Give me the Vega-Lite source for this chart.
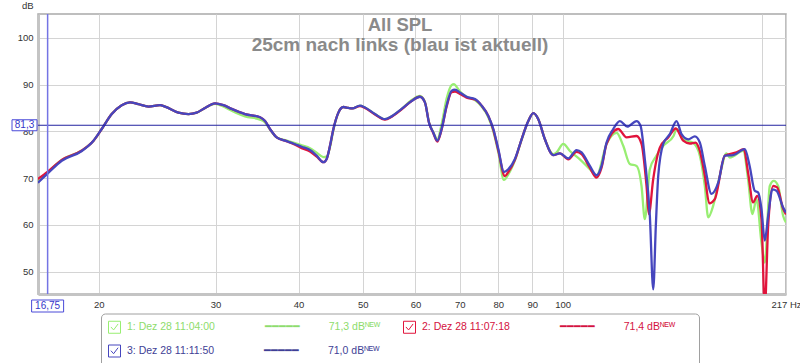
{
  "$schema": "https://vega.github.io/schema/vega-lite/v6.json",
  "width": 748,
  "height": 280,
  "padding": {"left": 10, "top": 0, "right": 0, "bottom": 0},
  "background": "white",
  "config": {
    "locale": {"number": {"decimal": ",", "thousands": ".", "grouping": [3], "currency": ["", " €"]}},
    "view": {"stroke": "#a9a9a9", "strokeWidth": 1.5},
    "axis": {"labelFont": "Liberation Sans", "labelFontSize": 9.5, "labelColor": "#333333", "gridColor": "#d4d4d4", "gridWidth": 1, "ticks": false, "domainColor": "#c4c4c4", "domainWidth": 3, "labelOverlap": false}
  },
  "title": {
    "text": "All SPL",
    "subtitle": "25cm nach links (blau ist aktuell)",
    "anchor": "middle",
    "offset": -55,
    "dx": -12,
    "font": "Liberation Sans",
    "fontSize": 18.5,
    "fontWeight": "bold",
    "color": "#8a8a8a",
    "subtitleFont": "Liberation Sans",
    "subtitleFontSize": 19,
    "subtitleFontWeight": "bold",
    "subtitleColor": "#8a8a8a",
    "subtitlePadding": 2
  },
  "datasets": {
    "cursor": [{"hz": 16.75, "db": 81.3}],
    "spl": [
      {"m":"1: Dez 28 11:04:00","hz":16.19,"db":69.3},{"m":"1: Dez 28 11:04:00","hz":16.76,"db":71.3},{"m":"1: Dez 28 11:04:00","hz":17.59,"db":73.9},{"m":"1: Dez 28 11:04:00","hz":18.86,"db":75.9},{"m":"1: Dez 28 11:04:00","hz":19.64,"db":78.0},{"m":"1: Dez 28 11:04:00","hz":20.21,"db":80.5},{"m":"1: Dez 28 11:04:00","hz":20.92,"db":83.7},{"m":"1: Dez 28 11:04:00","hz":21.66,"db":85.6},{"m":"1: Dez 28 11:04:00","hz":22.29,"db":86.2},{"m":"1: Dez 28 11:04:00","hz":22.95,"db":85.8},{"m":"1: Dez 28 11:04:00","hz":23.77,"db":85.3},{"m":"1: Dez 28 11:04:00","hz":24.74,"db":85.6},{"m":"1: Dez 28 11:04:00","hz":25.17,"db":85.3},{"m":"1: Dez 28 11:04:00","hz":26.37,"db":84.0},{"m":"1: Dez 28 11:04:00","hz":27.30,"db":83.7},{"m":"1: Dez 28 11:04:00","hz":28.09,"db":84.0},{"m":"1: Dez 28 11:04:00","hz":28.92,"db":85.0},{"m":"1: Dez 28 11:04:00","hz":29.94,"db":85.9},{"m":"1: Dez 28 11:04:00","hz":30.82,"db":85.3},{"m":"1: Dez 28 11:04:00","hz":31.72,"db":84.4},{"m":"1: Dez 28 11:04:00","hz":33.22,"db":83.2},{"m":"1: Dez 28 11:04:00","hz":35.00,"db":82.5},{"m":"1: Dez 28 11:04:00","hz":35.61,"db":81.9},{"m":"1: Dez 28 11:04:00","hz":36.23,"db":80.4},{"m":"1: Dez 28 11:04:00","hz":37.08,"db":78.7},{"m":"1: Dez 28 11:04:00","hz":38.17,"db":78.1},{"m":"1: Dez 28 11:04:00","hz":39.29,"db":77.6},{"m":"1: Dez 28 11:04:00","hz":40.44,"db":77.0},{"m":"1: Dez 28 11:04:00","hz":41.62,"db":76.4},{"m":"1: Dez 28 11:04:00","hz":42.60,"db":75.4},{"m":"1: Dez 28 11:04:00","hz":43.60,"db":74.5},{"m":"1: Dez 28 11:04:00","hz":44.10,"db":74.6},{"m":"1: Dez 28 11:04:00","hz":44.61,"db":76.6},{"m":"1: Dez 28 11:04:00","hz":45.14,"db":80.3},{"m":"1: Dez 28 11:04:00","hz":45.93,"db":84.0},{"m":"1: Dez 28 11:04:00","hz":46.73,"db":85.2},{"m":"1: Dez 28 11:04:00","hz":47.55,"db":85.0},{"m":"1: Dez 28 11:04:00","hz":48.21,"db":84.9},{"m":"1: Dez 28 11:04:00","hz":49.50,"db":85.5},{"m":"1: Dez 28 11:04:00","hz":50.37,"db":85.1},{"m":"1: Dez 28 11:04:00","hz":52.14,"db":83.7},{"m":"1: Dez 28 11:04:00","hz":53.98,"db":82.6},{"m":"1: Dez 28 11:04:00","hz":55.25,"db":83.2},{"m":"1: Dez 28 11:04:00","hz":57.20,"db":84.8},{"m":"1: Dez 28 11:04:00","hz":59.22,"db":86.7},{"m":"1: Dez 28 11:04:00","hz":60.95,"db":87.6},{"m":"1: Dez 28 11:04:00","hz":62.01,"db":86.3},{"m":"1: Dez 28 11:04:00","hz":62.88,"db":82.0},{"m":"1: Dez 28 11:04:00","hz":63.85,"db":79.8},{"m":"1: Dez 28 11:04:00","hz":64.74,"db":78.3},{"m":"1: Dez 28 11:04:00","hz":65.71,"db":81.5},{"m":"1: Dez 28 11:04:00","hz":66.86,"db":87.0},{"m":"1: Dez 28 11:04:00","hz":68.03,"db":89.9},{"m":"1: Dez 28 11:04:00","hz":68.60,"db":90.1},{"m":"1: Dez 28 11:04:00","hz":69.30,"db":89.4},{"m":"1: Dez 28 11:04:00","hz":70.02,"db":88.5},{"m":"1: Dez 28 11:04:00","hz":71.66,"db":87.4},{"m":"1: Dez 28 11:04:00","hz":73.76,"db":86.7},{"m":"1: Dez 28 11:04:00","hz":75.49,"db":85.3},{"m":"1: Dez 28 11:04:00","hz":77.26,"db":83.0},{"m":"1: Dez 28 11:04:00","hz":78.62,"db":80.0},{"m":"1: Dez 28 11:04:00","hz":79.99,"db":75.5},{"m":"1: Dez 28 11:04:00","hz":81.56,"db":69.6},{"m":"1: Dez 28 11:04:00","hz":82.81,"db":70.8},{"m":"1: Dez 28 11:04:00","hz":84.73,"db":73.8},{"m":"1: Dez 28 11:04:00","hz":86.72,"db":78.2},{"m":"1: Dez 28 11:04:00","hz":88.76,"db":82.2},{"m":"1: Dez 28 11:04:00","hz":90.31,"db":83.9},{"m":"1: Dez 28 11:04:00","hz":91.89,"db":82.6},{"m":"1: Dez 28 11:04:00","hz":94.02,"db":78.3},{"m":"1: Dez 28 11:04:00","hz":96.80,"db":75.1},{"m":"1: Dez 28 11:04:00","hz":97.91,"db":75.5},{"m":"1: Dez 28 11:04:00","hz":100.21,"db":77.3},{"m":"1: Dez 28 11:04:00","hz":102.53,"db":75.8},{"m":"1: Dez 28 11:04:00","hz":106.15,"db":74.0},{"m":"1: Dez 28 11:04:00","hz":109.90,"db":71.9},{"m":"1: Dez 28 11:04:00","hz":112.47,"db":70.5},{"m":"1: Dez 28 11:04:00","hz":116.44,"db":77.3},{"m":"1: Dez 28 11:04:00","hz":120.55,"db":79.7},{"m":"1: Dez 28 11:04:00","hz":123.38,"db":76.9},{"m":"1: Dez 28 11:04:00","hz":126.23,"db":73.0},{"m":"1: Dez 28 11:04:00","hz":129.20,"db":72.6},{"m":"1: Dez 28 11:04:00","hz":131.46,"db":68.3},{"m":"1: Dez 28 11:04:00","hz":132.98,"db":61.2},{"m":"1: Dez 28 11:04:00","hz":135.31,"db":71.9},{"m":"1: Dez 28 11:04:00","hz":138.49,"db":74.8},{"m":"1: Dez 28 11:04:00","hz":141.75,"db":76.9},{"m":"1: Dez 28 11:04:00","hz":146.90,"db":79.0},{"m":"1: Dez 28 11:04:00","hz":148.43,"db":80.5},{"m":"1: Dez 28 11:04:00","hz":151.92,"db":78.3},{"m":"1: Dez 28 11:04:00","hz":153.67,"db":78.0},{"m":"1: Dez 28 11:04:00","hz":157.40,"db":77.5},{"m":"1: Dez 28 11:04:00","hz":160.93,"db":74.8},{"m":"1: Dez 28 11:04:00","hz":163.74,"db":68.3},{"m":"1: Dez 28 11:04:00","hz":165.68,"db":61.6},{"m":"1: Dez 28 11:04:00","hz":168.58,"db":64.1},{"m":"1: Dez 28 11:04:00","hz":172.48,"db":70.5},{"m":"1: Dez 28 11:04:00","hz":176.54,"db":75.3},{"m":"1: Dez 28 11:04:00","hz":178.57,"db":74.4},{"m":"1: Dez 28 11:04:00","hz":187.06,"db":75.8},{"m":"1: Dez 28 11:04:00","hz":190.23,"db":69.8},{"m":"1: Dez 28 11:04:00","hz":193.13,"db":62.3},{"m":"1: Dez 28 11:04:00","hz":195.88,"db":65.5},{"m":"1: Dez 28 11:04:00","hz":199.30,"db":56.2},{"m":"1: Dez 28 11:04:00","hz":201.59,"db":51.9},{"m":"1: Dez 28 11:04:00","hz":205.13,"db":68.3},{"m":"1: Dez 28 11:04:00","hz":208.00,"db":69.4},{"m":"1: Dez 28 11:04:00","hz":211.19,"db":68.3},{"m":"1: Dez 28 11:04:00","hz":214.89,"db":61.9},{"m":"1: Dez 28 11:04:00","hz":217,"db":60.5},

      {"m":"2: Dez 28 11:07:18","hz":16.19,"db":69.8},{"m":"2: Dez 28 11:07:18","hz":16.76,"db":71.4},{"m":"2: Dez 28 11:07:18","hz":17.59,"db":73.9},{"m":"2: Dez 28 11:07:18","hz":18.86,"db":75.9},{"m":"2: Dez 28 11:07:18","hz":19.64,"db":78.0},{"m":"2: Dez 28 11:07:18","hz":20.21,"db":80.5},{"m":"2: Dez 28 11:07:18","hz":20.92,"db":83.7},{"m":"2: Dez 28 11:07:18","hz":21.66,"db":85.6},{"m":"2: Dez 28 11:07:18","hz":22.29,"db":86.2},{"m":"2: Dez 28 11:07:18","hz":22.95,"db":85.8},{"m":"2: Dez 28 11:07:18","hz":23.77,"db":85.3},{"m":"2: Dez 28 11:07:18","hz":24.74,"db":85.6},{"m":"2: Dez 28 11:07:18","hz":25.17,"db":85.3},{"m":"2: Dez 28 11:07:18","hz":26.37,"db":84.0},{"m":"2: Dez 28 11:07:18","hz":27.30,"db":83.7},{"m":"2: Dez 28 11:07:18","hz":28.09,"db":84.0},{"m":"2: Dez 28 11:07:18","hz":28.92,"db":85.0},{"m":"2: Dez 28 11:07:18","hz":29.94,"db":86.0},{"m":"2: Dez 28 11:07:18","hz":30.82,"db":85.6},{"m":"2: Dez 28 11:07:18","hz":31.72,"db":84.8},{"m":"2: Dez 28 11:07:18","hz":33.22,"db":83.7},{"m":"2: Dez 28 11:07:18","hz":35.00,"db":83.0},{"m":"2: Dez 28 11:07:18","hz":35.61,"db":82.2},{"m":"2: Dez 28 11:07:18","hz":36.23,"db":80.5},{"m":"2: Dez 28 11:07:18","hz":37.08,"db":78.7},{"m":"2: Dez 28 11:07:18","hz":38.17,"db":78.0},{"m":"2: Dez 28 11:07:18","hz":39.29,"db":77.3},{"m":"2: Dez 28 11:07:18","hz":40.44,"db":76.4},{"m":"2: Dez 28 11:07:18","hz":41.62,"db":75.7},{"m":"2: Dez 28 11:07:18","hz":42.60,"db":74.6},{"m":"2: Dez 28 11:07:18","hz":43.60,"db":73.4},{"m":"2: Dez 28 11:07:18","hz":44.10,"db":74.1},{"m":"2: Dez 28 11:07:18","hz":44.61,"db":76.9},{"m":"2: Dez 28 11:07:18","hz":45.14,"db":80.5},{"m":"2: Dez 28 11:07:18","hz":45.93,"db":84.0},{"m":"2: Dez 28 11:07:18","hz":46.73,"db":85.2},{"m":"2: Dez 28 11:07:18","hz":47.55,"db":85.0},{"m":"2: Dez 28 11:07:18","hz":48.21,"db":84.9},{"m":"2: Dez 28 11:07:18","hz":49.50,"db":85.4},{"m":"2: Dez 28 11:07:18","hz":50.37,"db":85.0},{"m":"2: Dez 28 11:07:18","hz":52.14,"db":83.6},{"m":"2: Dez 28 11:07:18","hz":53.98,"db":82.5},{"m":"2: Dez 28 11:07:18","hz":55.25,"db":83.1},{"m":"2: Dez 28 11:07:18","hz":57.20,"db":84.7},{"m":"2: Dez 28 11:07:18","hz":59.22,"db":86.5},{"m":"2: Dez 28 11:07:18","hz":60.95,"db":87.4},{"m":"2: Dez 28 11:07:18","hz":62.01,"db":86.2},{"m":"2: Dez 28 11:07:18","hz":62.88,"db":81.9},{"m":"2: Dez 28 11:07:18","hz":63.85,"db":79.6},{"m":"2: Dez 28 11:07:18","hz":64.74,"db":77.8},{"m":"2: Dez 28 11:07:18","hz":65.71,"db":80.4},{"m":"2: Dez 28 11:07:18","hz":66.86,"db":85.3},{"m":"2: Dez 28 11:07:18","hz":68.03,"db":88.4},{"m":"2: Dez 28 11:07:18","hz":68.82,"db":88.5},{"m":"2: Dez 28 11:07:18","hz":70.02,"db":88.0},{"m":"2: Dez 28 11:07:18","hz":71.66,"db":87.2},{"m":"2: Dez 28 11:07:18","hz":73.76,"db":86.8},{"m":"2: Dez 28 11:07:18","hz":75.49,"db":85.5},{"m":"2: Dez 28 11:07:18","hz":77.26,"db":83.3},{"m":"2: Dez 28 11:07:18","hz":78.62,"db":80.3},{"m":"2: Dez 28 11:07:18","hz":79.99,"db":75.9},{"m":"2: Dez 28 11:07:18","hz":81.84,"db":70.4},{"m":"2: Dez 28 11:07:18","hz":82.81,"db":71.3},{"m":"2: Dez 28 11:07:18","hz":84.73,"db":73.9},{"m":"2: Dez 28 11:07:18","hz":86.72,"db":78.3},{"m":"2: Dez 28 11:07:18","hz":88.76,"db":82.2},{"m":"2: Dez 28 11:07:18","hz":90.31,"db":83.9},{"m":"2: Dez 28 11:07:18","hz":91.89,"db":82.6},{"m":"2: Dez 28 11:07:18","hz":94.02,"db":78.3},{"m":"2: Dez 28 11:07:18","hz":96.80,"db":74.9},{"m":"2: Dez 28 11:07:18","hz":99.04,"db":75.3},{"m":"2: Dez 28 11:07:18","hz":101.97,"db":74.0},{"m":"2: Dez 28 11:07:18","hz":104.94,"db":75.6},{"m":"2: Dez 28 11:07:18","hz":106.78,"db":75.1},{"m":"2: Dez 28 11:07:18","hz":109.90,"db":72.2},{"m":"2: Dez 28 11:07:18","hz":112.47,"db":70.1},{"m":"2: Dez 28 11:07:18","hz":114.44,"db":72.2},{"m":"2: Dez 28 11:07:18","hz":116.44,"db":77.3},{"m":"2: Dez 28 11:07:18","hz":121.26,"db":80.5},{"m":"2: Dez 28 11:07:18","hz":124.79,"db":78.7},{"m":"2: Dez 28 11:07:18","hz":129.20,"db":79.0},{"m":"2: Dez 28 11:07:18","hz":131.46,"db":77.3},{"m":"2: Dez 28 11:07:18","hz":133.76,"db":68.3},{"m":"2: Dez 28 11:07:18","hz":134.84,"db":62.3},{"m":"2: Dez 28 11:07:18","hz":136.91,"db":69.8},{"m":"2: Dez 28 11:07:18","hz":140.08,"db":76.5},{"m":"2: Dez 28 11:07:18","hz":144.22,"db":78.7},{"m":"2: Dez 28 11:07:18","hz":148.08,"db":80.6},{"m":"2: Dez 28 11:07:18","hz":151.92,"db":78.0},{"m":"2: Dez 28 11:07:18","hz":155.44,"db":77.4},{"m":"2: Dez 28 11:07:18","hz":158.50,"db":77.6},{"m":"2: Dez 28 11:07:18","hz":160.93,"db":75.8},{"m":"2: Dez 28 11:07:18","hz":163.74,"db":70.5},{"m":"2: Dez 28 11:07:18","hz":166.26,"db":64.6},{"m":"2: Dez 28 11:07:18","hz":169.52,"db":65.5},{"m":"2: Dez 28 11:07:18","hz":175.50,"db":74.8},{"m":"2: Dez 28 11:07:18","hz":182.76,"db":75.5},{"m":"2: Dez 28 11:07:18","hz":187.45,"db":76.2},{"m":"2: Dez 28 11:07:18","hz":190.23,"db":71.2},{"m":"2: Dez 28 11:07:18","hz":193.60,"db":64.8},{"m":"2: Dez 28 11:07:18","hz":196.36,"db":66.2},{"m":"2: Dez 28 11:07:18","hz":199.30,"db":61.2},{"m":"2: Dez 28 11:07:18","hz":201.59,"db":42.0},{"m":"2: Dez 28 11:07:18","hz":203.98,"db":59.8},{"m":"2: Dez 28 11:07:18","hz":207.56,"db":68.3},{"m":"2: Dez 28 11:07:18","hz":210.47,"db":68.0},{"m":"2: Dez 28 11:07:18","hz":214.89,"db":63.4},{"m":"2: Dez 28 11:07:18","hz":217,"db":62.2},

      {"m":"3: Dez 28 11:11:50","hz":16.19,"db":69.0},{"m":"3: Dez 28 11:11:50","hz":16.76,"db":71.0},{"m":"3: Dez 28 11:11:50","hz":17.59,"db":73.7},{"m":"3: Dez 28 11:11:50","hz":18.86,"db":75.8},{"m":"3: Dez 28 11:11:50","hz":19.64,"db":78.0},{"m":"3: Dez 28 11:11:50","hz":20.21,"db":80.5},{"m":"3: Dez 28 11:11:50","hz":20.92,"db":83.7},{"m":"3: Dez 28 11:11:50","hz":21.66,"db":85.6},{"m":"3: Dez 28 11:11:50","hz":22.29,"db":86.2},{"m":"3: Dez 28 11:11:50","hz":22.95,"db":85.8},{"m":"3: Dez 28 11:11:50","hz":23.77,"db":85.3},{"m":"3: Dez 28 11:11:50","hz":24.74,"db":85.6},{"m":"3: Dez 28 11:11:50","hz":25.17,"db":85.3},{"m":"3: Dez 28 11:11:50","hz":26.37,"db":84.0},{"m":"3: Dez 28 11:11:50","hz":27.30,"db":83.7},{"m":"3: Dez 28 11:11:50","hz":28.09,"db":84.0},{"m":"3: Dez 28 11:11:50","hz":28.92,"db":85.0},{"m":"3: Dez 28 11:11:50","hz":29.94,"db":86.0},{"m":"3: Dez 28 11:11:50","hz":30.82,"db":85.6},{"m":"3: Dez 28 11:11:50","hz":31.72,"db":84.8},{"m":"3: Dez 28 11:11:50","hz":33.22,"db":83.7},{"m":"3: Dez 28 11:11:50","hz":35.00,"db":83.0},{"m":"3: Dez 28 11:11:50","hz":35.61,"db":82.2},{"m":"3: Dez 28 11:11:50","hz":36.23,"db":80.5},{"m":"3: Dez 28 11:11:50","hz":37.08,"db":78.7},{"m":"3: Dez 28 11:11:50","hz":38.17,"db":78.0},{"m":"3: Dez 28 11:11:50","hz":39.29,"db":77.4},{"m":"3: Dez 28 11:11:50","hz":40.44,"db":76.7},{"m":"3: Dez 28 11:11:50","hz":41.62,"db":76.0},{"m":"3: Dez 28 11:11:50","hz":42.60,"db":74.8},{"m":"3: Dez 28 11:11:50","hz":43.60,"db":73.4},{"m":"3: Dez 28 11:11:50","hz":44.10,"db":74.1},{"m":"3: Dez 28 11:11:50","hz":44.61,"db":76.9},{"m":"3: Dez 28 11:11:50","hz":45.14,"db":80.5},{"m":"3: Dez 28 11:11:50","hz":45.93,"db":84.0},{"m":"3: Dez 28 11:11:50","hz":46.73,"db":85.2},{"m":"3: Dez 28 11:11:50","hz":47.55,"db":85.0},{"m":"3: Dez 28 11:11:50","hz":48.21,"db":84.9},{"m":"3: Dez 28 11:11:50","hz":49.50,"db":85.5},{"m":"3: Dez 28 11:11:50","hz":50.37,"db":85.1},{"m":"3: Dez 28 11:11:50","hz":52.14,"db":83.7},{"m":"3: Dez 28 11:11:50","hz":53.98,"db":82.6},{"m":"3: Dez 28 11:11:50","hz":55.25,"db":83.2},{"m":"3: Dez 28 11:11:50","hz":57.20,"db":84.8},{"m":"3: Dez 28 11:11:50","hz":59.22,"db":86.5},{"m":"3: Dez 28 11:11:50","hz":60.95,"db":87.4},{"m":"3: Dez 28 11:11:50","hz":62.01,"db":86.2},{"m":"3: Dez 28 11:11:50","hz":62.88,"db":81.9},{"m":"3: Dez 28 11:11:50","hz":63.85,"db":79.7},{"m":"3: Dez 28 11:11:50","hz":64.74,"db":78.0},{"m":"3: Dez 28 11:11:50","hz":65.71,"db":80.5},{"m":"3: Dez 28 11:11:50","hz":66.86,"db":85.5},{"m":"3: Dez 28 11:11:50","hz":68.03,"db":88.7},{"m":"3: Dez 28 11:11:50","hz":68.82,"db":88.9},{"m":"3: Dez 28 11:11:50","hz":70.02,"db":88.3},{"m":"3: Dez 28 11:11:50","hz":71.66,"db":87.4},{"m":"3: Dez 28 11:11:50","hz":73.76,"db":86.9},{"m":"3: Dez 28 11:11:50","hz":75.49,"db":85.5},{"m":"3: Dez 28 11:11:50","hz":77.26,"db":83.3},{"m":"3: Dez 28 11:11:50","hz":78.62,"db":80.5},{"m":"3: Dez 28 11:11:50","hz":79.99,"db":76.2},{"m":"3: Dez 28 11:11:50","hz":81.56,"db":71.3},{"m":"3: Dez 28 11:11:50","hz":82.81,"db":71.9},{"m":"3: Dez 28 11:11:50","hz":84.73,"db":74.1},{"m":"3: Dez 28 11:11:50","hz":86.72,"db":78.3},{"m":"3: Dez 28 11:11:50","hz":88.76,"db":82.2},{"m":"3: Dez 28 11:11:50","hz":90.31,"db":83.9},{"m":"3: Dez 28 11:11:50","hz":91.89,"db":82.6},{"m":"3: Dez 28 11:11:50","hz":94.02,"db":78.3},{"m":"3: Dez 28 11:11:50","hz":96.80,"db":74.9},{"m":"3: Dez 28 11:11:50","hz":99.04,"db":75.3},{"m":"3: Dez 28 11:11:50","hz":101.97,"db":74.2},{"m":"3: Dez 28 11:11:50","hz":104.94,"db":76.0},{"m":"3: Dez 28 11:11:50","hz":106.78,"db":75.5},{"m":"3: Dez 28 11:11:50","hz":109.90,"db":72.6},{"m":"3: Dez 28 11:11:50","hz":112.47,"db":70.6},{"m":"3: Dez 28 11:11:50","hz":114.44,"db":72.6},{"m":"3: Dez 28 11:11:50","hz":116.44,"db":77.6},{"m":"3: Dez 28 11:11:50","hz":119.17,"db":80.5},{"m":"3: Dez 28 11:11:50","hz":121.93,"db":82.2},{"m":"3: Dez 28 11:11:50","hz":125.10,"db":81.0},{"m":"3: Dez 28 11:11:50","hz":129.20,"db":82.2},{"m":"3: Dez 28 11:11:50","hz":131.01,"db":81.2},{"m":"3: Dez 28 11:11:50","hz":132.98,"db":74.0},{"m":"3: Dez 28 11:11:50","hz":135.31,"db":61.9},{"m":"3: Dez 28 11:11:50","hz":136.91,"db":46.2},{"m":"3: Dez 28 11:11:50","hz":138.15,"db":59.8},{"m":"3: Dez 28 11:11:50","hz":139.31,"db":70.5},{"m":"3: Dez 28 11:11:50","hz":141.75,"db":77.3},{"m":"3: Dez 28 11:11:50","hz":145.03,"db":79.4},{"m":"3: Dez 28 11:11:50","hz":148.43,"db":82.2},{"m":"3: Dez 28 11:11:50","hz":151.03,"db":79.4},{"m":"3: Dez 28 11:11:50","hz":154.58,"db":78.3},{"m":"3: Dez 28 11:11:50","hz":158.16,"db":78.9},{"m":"3: Dez 28 11:11:50","hz":160.93,"db":77.6},{"m":"3: Dez 28 11:11:50","hz":163.74,"db":72.6},{"m":"3: Dez 28 11:11:50","hz":167.59,"db":66.6},{"m":"3: Dez 28 11:11:50","hz":171.53,"db":69.0},{"m":"3: Dez 28 11:11:50","hz":175.50,"db":74.8},{"m":"3: Dez 28 11:11:50","hz":180.69,"db":74.9},{"m":"3: Dez 28 11:11:50","hz":188.10,"db":76.2},{"m":"3: Dez 28 11:11:50","hz":191.29,"db":72.6},{"m":"3: Dez 28 11:11:50","hz":194.68,"db":67.3},{"m":"3: Dez 28 11:11:50","hz":197.04,"db":66.9},{"m":"3: Dez 28 11:11:50","hz":199.30,"db":63.4},{"m":"3: Dez 28 11:11:50","hz":201.59,"db":56.6},{"m":"3: Dez 28 11:11:50","hz":203.98,"db":61.9},{"m":"3: Dez 28 11:11:50","hz":207.05,"db":67.6},{"m":"3: Dez 28 11:11:50","hz":209.96,"db":67.3},{"m":"3: Dez 28 11:11:50","hz":214.89,"db":63.7},{"m":"3: Dez 28 11:11:50","hz":217,"db":62.6}
    ]
  },
  "layer": [
    {
      "data": {"name": "spl"},
      "mark": {"type": "line", "interpolate": "monotone", "strokeWidth": 2.3, "clip": true},
      "encoding": {
        "x": {
          "field": "hz", "type": "quantitative",
          "scale": {"type": "log", "domain": [16.2, 217], "nice": false},
          "axis": {"title": null, "values": [20, 30, 40, 50, 60, 70, 80, 90, 100, 200, 217], "labelExpr": "datum.value == 217 ? '217 Hz' : datum.value == 200 ? '' : '' + datum.value", "labelFlush": false, "labelPadding": 5, "grid": true}
        },
        "y": {
          "field": "db", "type": "quantitative",
          "scale": {"domain": [45.2, 105.1], "nice": false, "zero": false},
          "axis": {"values": [50, 60, 70, 80, 90, 100], "labelPadding": 5, "title": "dB", "titleAngle": 0, "titleX": -5, "titleY": -4, "titleAlign": "right", "titleBaseline": "bottom", "titleFont": "Liberation Sans", "titleFontSize": 9.5, "titleFontWeight": "normal", "titleColor": "#333333", "grid": true}
        },
        "color": {
          "field": "m", "type": "nominal",
          "scale": {"domain": ["1: Dez 28 11:04:00", "2: Dez 28 11:07:18", "3: Dez 28 11:11:50"], "range": ["#98ee72", "#e1143c", "#4646be"]},
          "legend": {
            "orient": "none", "legendX": 63, "legendY": 299.5, "title": null,
            "values": ["1: Dez 28 11:04:00", "3: Dez 28 11:11:50", "2: Dez 28 11:07:18"],
            "columns": 2, "columnPadding": 20, "rowPadding": 7, "padding": 7,
            "strokeColor": "#a0a0a0", "fillColor": "white", "cornerRadius": 4,
            "symbolType": "M-1,-1H1V1H-1Z M-0.6,-0.05L-0.15,0.45L0.6,-0.55",
            "symbolSize": 144, "symbolStrokeWidth": 1, "symbolStrokeColor": "#4a4a4a", "symbolFillColor": "white",
            "labelFont": "Liberation Sans", "labelFontSize": 10.5, "labelLimit": 600, "labelOffset": 6,
            "labelExpr": "datum.label + '\u00a0\u00a0\u00a0\u00a0\u00a0\u00a0\u00a0\u00a0\u00a0\u00a0\u00a0\u00a0\u00a0\u00a0\u00a0\u00a0\u00a0━━━━━\u00a0\u00a0\u00a0\u00a0\u00a0\u00a0\u00a0\u00a0\u00a0\u00a0' + (substring(datum.label,0,1)=='1' ? '71,3' : substring(datum.label,0,1)=='2' ? '71,4' : '71,0') + ' dBᴺᴱᵂ' + (substring(datum.label,0,1)=='2' ? '\u2800\u2800' : '')",
            "labelColor": {"expr": "substring(datum.label,0,1)=='1' ? '#8edc6c' : substring(datum.label,0,1)=='2' ? '#d4123e' : '#3f3f96'"}
          }
        }
      }
    },
    {
      "data": {"name": "cursor"},
      "mark": {"type": "rule", "color": "#2323a0", "strokeWidth": 1},
      "encoding": {"y": {"field": "db", "type": "quantitative"}}
    },
    {
      "data": {"name": "cursor"},
      "mark": {"type": "rule", "color": "#7474e4", "strokeWidth": 1.5},
      "encoding": {"x": {"field": "hz", "type": "quantitative"}}
    },
    {
      "data": {"name": "cursor"},
      "mark": {"type": "point", "shape": "M-1,-0.44H1V0.44H-1Z", "size": 625, "filled": true, "fill": "white", "stroke": "#4a4ad8", "strokeWidth": 1, "opacity": 1, "xOffset": -13.5},
      "encoding": {"x": {"value": 0}, "y": {"field": "db", "type": "quantitative"}}
    },
    {
      "data": {"name": "cursor"},
      "mark": {"type": "text", "font": "Liberation Sans", "fontSize": 10, "color": "#3636c8", "xOffset": -13.5},
      "encoding": {"x": {"value": 0}, "y": {"field": "db", "type": "quantitative"}, "text": {"field": "db", "type": "quantitative", "format": ".1f"}}
    },
    {
      "data": {"name": "cursor"},
      "mark": {"type": "point", "shape": "M-1,-0.375H1V0.375H-1Z", "size": 1024, "filled": true, "fill": "white", "stroke": "#4a4ad8", "strokeWidth": 1, "opacity": 1, "yOffset": 12},
      "encoding": {"x": {"field": "hz", "type": "quantitative"}, "y": {"value": "height"}}
    },
    {
      "data": {"name": "cursor"},
      "mark": {"type": "text", "font": "Liberation Sans", "fontSize": 10, "color": "#3636c8", "yOffset": 12},
      "encoding": {"x": {"field": "hz", "type": "quantitative"}, "y": {"value": "height"}, "text": {"field": "hz", "type": "quantitative", "format": ".2f"}}
    }
  ]
}
